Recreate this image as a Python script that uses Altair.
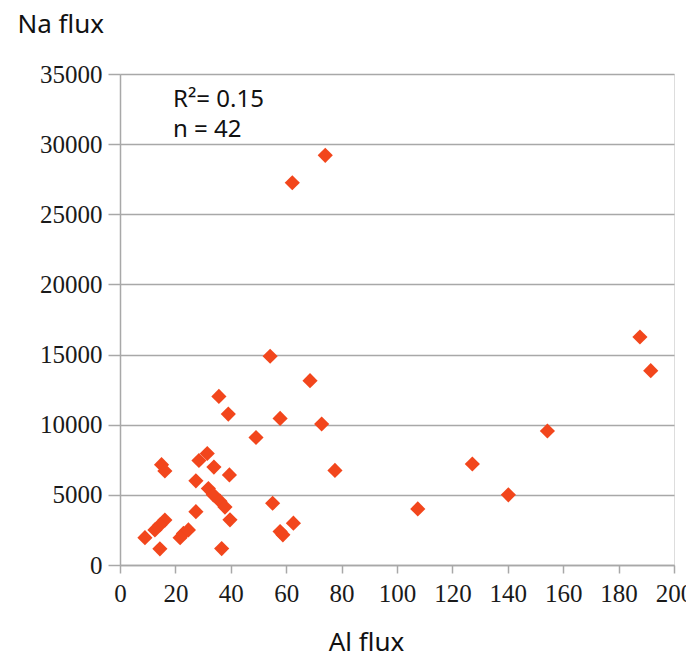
import altair as alt
import pandas as pd

# Data
al_flux = [62.2, 74.1, 187.7, 191.6, 154.3, 127.2, 140.2, 107.5,
           54.2, 68.6, 35.7, 39.1, 57.8, 72.8, 49.1,
           15.0, 16.2, 28.5, 31.5, 33.9, 39.5, 77.6, 27.4,
           31.9, 33.7, 36.1, 37.9, 55.1, 27.4, 39.7,
           16.2, 14.4, 12.6, 9.0, 22.9, 24.7, 21.7,
           14.4, 36.7, 57.8, 62.6, 58.8]
na_flux = [27250, 29200, 16250, 13850, 9550, 7200, 5000, 4000,
           14880, 13140, 12020, 10760, 10450, 10050, 9090,
           7150, 6700, 7450, 7950, 6980, 6420, 6740, 6000,
           5450, 5000, 4550, 4130, 4400, 3800, 3220,
           3200, 2850, 2500, 1950, 2250, 2500, 1950,
           1150, 1170, 2380, 2980, 2150]

x_ticks = [0, 20, 40, 60, 80, 100, 120, 140, 160, 180, 200]
y_ticks = [0, 5000, 10000, 15000, 20000, 25000, 30000, 35000]

annot_lines = ["R\u00b2= 0.15", "n = 42"]

df = pd.DataFrame({"Al flux": al_flux, "Na flux": na_flux})

GRAY = "#a8a8a8"
SERIF = "Liberation Serif"
SANS = "Noto Sans"

points = alt.Chart(df).mark_point(
    shape="diamond", filled=True, size=230, color="#f2461c", opacity=1
).encode(
    x=alt.X(
        "Al flux:Q",
        scale=alt.Scale(domain=[0, 200], nice=False),
        axis=alt.Axis(
            values=x_ticks, grid=False, tickSize=8, tickColor=GRAY,
            domainColor=GRAY, domainWidth=1.5, tickWidth=1.5,
            labelFont=SERIF, labelFontSize=25, labelColor="#1a1a1a",
            labelPadding=8, labelFlush=False,
            title="Al flux", titleFont=SANS, titleFontSize=26,
            titleFontWeight="normal", titleColor="#111111",
            titleX=246, titleY=85, titleAlign="center",
            titleBaseline="alphabetic",
        ),
    ),
    y=alt.Y(
        "Na flux:Q",
        scale=alt.Scale(domain=[0, 35000], nice=False),
        axis=alt.Axis(
            values=y_ticks, grid=True, gridColor=GRAY, gridWidth=1.5,
            tickSize=12, tickColor=GRAY, tickWidth=1.5,
            domainColor=GRAY, domainWidth=1.5,
            labelFont=SERIF, labelFontSize=25, labelColor="#1a1a1a",
            labelPadding=6, labelFlush=False, format="d",
            title="Na flux", titleFont=SANS, titleFontSize=26,
            titleFontWeight="normal", titleColor="#111111",
            titleAngle=0, titleX=-103, titleY=-42, titleAlign="left",
            titleBaseline="alphabetic",
        ),
    ),
)

texts = []
for i, line in enumerate(annot_lines):
    texts.append(
        alt.Chart(pd.DataFrame({"t": [line]})).mark_text(
            font=SANS, fontSize=24, color="#111111", align="left",
            baseline="alphabetic",
        ).encode(
            x=alt.value(53),
            y=alt.value(33 + 30 * i),
            text="t:N",
        )
    )

chart = alt.layer(points, *texts).properties(
    width=554,
    height=491,
    autosize=alt.AutoSizeParams(type="none"),
    padding={"left": 112, "top": 66, "right": 12, "bottom": 87},
).configure_view(
    stroke=GRAY, strokeWidth=1.5
).configure(background="white")

chart.save("out.html", embed_options={"renderer": "svg", "actions": False})
